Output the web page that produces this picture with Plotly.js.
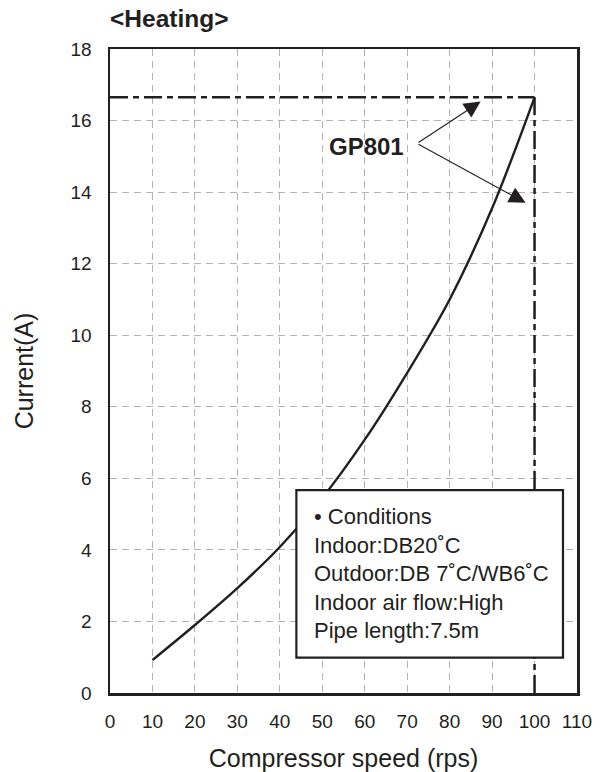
<!DOCTYPE html>
<html>
<head>
<meta charset="utf-8">
<script src="https://cdn.plot.ly/plotly-3.0.1.min.js"></script>
<style>html,body{margin:0;padding:0;background:#fff;}#chart{width:608px;height:772px;}</style>
</head>
<body>
<div id="chart"></div>
<script>
// Data
const speedRps = [10, 20, 30, 40, 50, 60, 70, 80, 90, 100];
const currentA = [0.92, 1.90, 2.93, 4.08, 5.45, 7.08, 8.95, 11.0, 13.55, 16.65];
const xTicks = [0, 10, 20, 30, 40, 50, 60, 70, 80, 90, 100, 110];
const yTicks = [0, 2, 4, 6, 8, 10, 12, 14, 16, 18];
const modelName = "GP801";
const conditionLines = ["• Conditions", "Indoor:DB20˚C", "Outdoor:DB 7˚C/WB6˚C", "Indoor air flow:High", "Pipe length:7.5m"];

const maxX = speedRps[speedRps.length - 1];
const maxY = currentA[currentA.length - 1];
const ink = "#231f20";
const font = "Liberation Sans, Arial, Helvetica, sans-serif";

const traces = [
  { // horizontal dash-dot reference at max current
    x: [0, maxX], y: [maxY, maxY], mode: "lines", hoverinfo: "skip",
    line: {color: ink, width: 2.5, dash: "18px,5px,6px,5px"}
  },
  { // vertical dash-dot reference at max speed
    x: [maxX, maxX], y: [0, maxY], mode: "lines", hoverinfo: "skip",
    line: {color: ink, width: 2.5, dash: "18px,5px,6px,5px"}
  },
  { // curve
    x: speedRps, y: currentA, mode: "lines",
    line: {color: ink, width: 2.4, shape: "spline", smoothing: 1}
  }
];

const axisCommon = {
  showline: true, mirror: true, linecolor: ink, linewidth: 2.5,
  showgrid: true, gridcolor: "#b3b3b3", gridwidth: 1, griddash: "7px,5px",
  zeroline: false, ticks: "", tickfont: {family: font, size: 19, color: ink},
  fixedrange: true
};

const layout = {
  width: 608, height: 772,
  margin: {l: 110, r: 31, t: 49, b: 79, autoexpand: false},
  paper_bgcolor: "#fff", plot_bgcolor: "#fff",
  showlegend: false,
  title: {
    text: "<b>&lt;Heating&gt;</b>",
    font: {family: font, size: 24.5, color: ink},
    xref: "paper", x: 0, xanchor: "left",
    yref: "container", y: 1 - 18 / 772, yanchor: "middle"
  },
  xaxis: Object.assign({}, axisCommon, {
    range: [0, 110], tickvals: xTicks, ticktext: xTicks.map(String),
    ticklabelstandoff: 10,
    title: {text: "Compressor speed (rps)", font: {family: font, size: 25, color: ink}, standoff: 20}
  }),
  yaxis: Object.assign({}, axisCommon, {
    range: [0, 18], tickvals: yTicks, ticktext: yTicks.map(String),
    ticklabelstandoff: 12,
    title: {text: "Current(A)", font: {family: font, size: 25, color: ink}, standoff: 30}
  }),
  shapes: [
    {type: "rect", xref: "x", yref: "y", x0: 43.9, x1: 106.7, y0: 0.99, y1: 5.67,
     line: {color: ink, width: 2.2}, fillcolor: "#fff", layer: "above"}
  ],
  annotations: [
    {x: 69.8, y: 15.27, xref: "x", yref: "y", text: "<b>" + modelName + "</b>", showarrow: false,
     xanchor: "right", yanchor: "middle", font: {family: font, size: 24, color: ink}},
    {x: 87.3, y: 16.53, ax: 72.3, ay: 15.36, xref: "x", yref: "y", axref: "x", ayref: "y",
     text: "", showarrow: true, arrowhead: 2, arrowsize: 3, arrowwidth: 1.1, arrowcolor: ink},
    {x: 97.9, y: 13.70, ax: 72.3, ay: 15.36, xref: "x", yref: "y", axref: "x", ayref: "y",
     text: "", showarrow: true, arrowhead: 2, arrowsize: 3, arrowwidth: 1.1, arrowcolor: ink},
    {x: 47.6, y: 5.34, xref: "x", yref: "y", text: conditionLines.join("<br>"), showarrow: false,
     xanchor: "left", yanchor: "top", align: "left",
     font: {family: font, size: 22, color: ink}}
  ]
};

Plotly.newPlot("chart", traces, layout, {staticPlot: true, displayModeBar: false});
</script>
</body>
</html>
